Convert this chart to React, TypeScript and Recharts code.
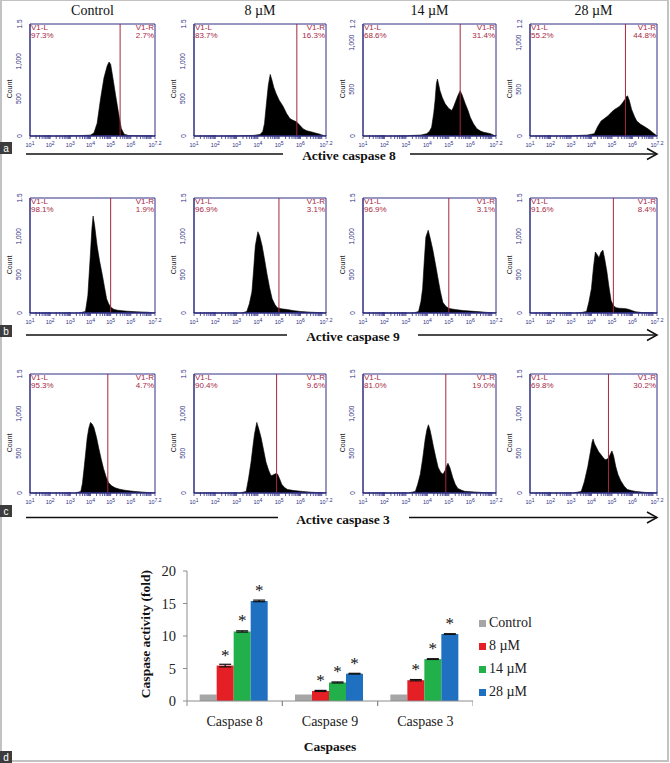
import React from 'react';
import {
  AreaChart, Area, XAxis, YAxis, ReferenceLine, ReferenceArea,
  BarChart, Bar, ErrorBar, LabelList,
} from 'recharts';

const NAVY = '#2e2e84';
const GATE = '#a8283f';
const SANS = '"Liberation Sans", Arial, sans-serif';
const SERIF = '"Liberation Serif", "Times New Roman", serif';

// ---- flow cytometry panels ----
const doseLabels = ['Control', '8 µM', '14 µM', '28 µM'];
const decadeTicks = [1, 2, 3, 4, 5, 6, 7.2];
const decadeLabels = ['1', '2', '3', '4', '5', '6', '7.2'];
// log-axis minor ticks (2..9 inside each decade)
const minorTicks = [1, 2, 3, 4, 5, 6].flatMap((d) => [2, 3, 4, 5, 6, 7, 8, 9].map((m) => d + Math.log10(m))).concat([7]);
const xTicks = [...decadeTicks, ...minorTicks].sort((a, b) => a - b);

type Pt = [number, number];

// Active caspase 8 (log10 fluorescence, count)
const c8Control: Pt[] = [[1, 0], [2.9, 0], [3.0, 3], [3.5, 5], [4.0, 12], [4.17, 40], [4.33, 170], [4.5, 500], [4.67, 780], [4.83, 940], [4.92, 990], [5.0, 960], [5.08, 830], [5.25, 540], [5.42, 260], [5.53, 100], [5.67, 25], [5.9, 6], [6.5, 2], [7.2, 0]];
const c8Dose8: Pt[] = [[1, 0], [3.0, 0], [3.2, 4], [3.8, 8], [4.1, 20], [4.23, 60], [4.31, 165], [4.39, 400], [4.49, 680], [4.58, 825], [4.65, 760], [4.75, 650], [4.86, 565], [5.0, 480], [5.18, 400], [5.35, 300], [5.5, 235], [5.65, 210], [5.81, 190], [5.95, 150], [6.13, 95], [6.3, 70], [6.52, 55], [6.7, 40], [6.91, 25], [7.1, 5], [7.2, 0]];
const c8Dose14: Pt[] = [[1, 0], [3.0, 0], [3.2, 5], [3.7, 10], [3.97, 25], [4.1, 50], [4.2, 95], [4.3, 250], [4.36, 380], [4.42, 560], [4.47, 610], [4.52, 560], [4.59, 485], [4.7, 410], [4.83, 345], [5.0, 295], [5.14, 273], [5.22, 310], [5.3, 360], [5.42, 430], [5.53, 485], [5.62, 440], [5.77, 345], [5.9, 270], [6.0, 200], [6.15, 130], [6.31, 78], [6.5, 50], [6.63, 40], [6.94, 25], [7.1, 8], [7.2, 0]];
const c8Dose28: Pt[] = [[1, 0], [3.0, 0], [3.3, 5], [3.8, 10], [4.14, 25], [4.3, 100], [4.47, 160], [4.65, 190], [4.8, 215], [5.0, 260], [5.13, 285], [5.25, 300], [5.38, 320], [5.5, 350], [5.63, 390], [5.7, 420], [5.76, 430], [5.85, 380], [5.96, 285], [6.1, 210], [6.21, 160], [6.4, 125], [6.54, 107], [6.7, 85], [6.87, 60], [7.0, 35], [7.1, 18], [7.2, 0]];

// Active caspase 9
const c9Control: Pt[] = [[1, 0], [3.4, 0], [3.5, 3], [3.75, 20], [3.87, 230], [4.0, 785], [4.07, 1100], [4.13, 1265], [4.2, 1150], [4.33, 875], [4.45, 680], [4.58, 507], [4.7, 330], [4.8, 185], [4.9, 120], [5.0, 78], [5.15, 50], [5.33, 37], [5.6, 28], [5.83, 23], [6.3, 15], [6.83, 10], [7.2, 0]];
const c9Dose8: Pt[] = [[1, 0], [3.2, 0], [3.3, 4], [3.48, 20], [3.6, 120], [3.72, 275], [3.8, 560], [3.88, 875], [4.0, 1060], [4.08, 1010], [4.2, 875], [4.3, 720], [4.43, 507], [4.55, 330], [4.67, 185], [4.8, 110], [4.91, 70], [5.1, 55], [5.38, 45], [5.7, 30], [6.0, 20], [6.5, 10], [6.9, 5], [7.2, 0]];
const c9Dose14: Pt[] = [[1, 0], [3.3, 0], [3.4, 4], [3.59, 20], [3.7, 150], [3.78, 320], [3.85, 650], [3.93, 990], [4.04, 1080], [4.12, 990], [4.25, 830], [4.37, 650], [4.49, 460], [4.6, 290], [4.72, 140], [4.85, 90], [5.0, 60], [5.3, 45], [5.67, 32], [6.0, 25], [6.46, 15], [6.9, 5], [7.2, 0]];
const c9Dose28: Pt[] = [[1, 0], [3.3, 0], [3.5, 5], [3.76, 20], [3.88, 150], [4.0, 320], [4.1, 600], [4.19, 795], [4.28, 760], [4.37, 720], [4.46, 790], [4.56, 820], [4.65, 700], [4.75, 545], [4.85, 350], [4.96, 160], [5.08, 95], [5.2, 70], [5.35, 62], [5.52, 60], [5.7, 55], [5.84, 45], [6.0, 30], [6.16, 15], [6.5, 5], [7.2, 0]];

// Active caspase 3
const c3Control: Pt[] = [[1, 0], [3.2, 0], [3.3, 4], [3.52, 20], [3.6, 120], [3.68, 305], [3.76, 500], [3.84, 700], [3.92, 820], [4.0, 890], [4.08, 870], [4.17, 825], [4.3, 700], [4.41, 565], [4.53, 430], [4.65, 305], [4.78, 200], [4.9, 130], [5.05, 90], [5.22, 65], [5.45, 48], [5.7, 35], [6.1, 22], [6.52, 13], [6.9, 5], [7.2, 0]];
const c3Dose8: Pt[] = [[1, 0], [3.1, 0], [3.2, 4], [3.45, 20], [3.56, 180], [3.68, 390], [3.76, 570], [3.84, 740], [3.95, 890], [4.04, 810], [4.15, 700], [4.27, 540], [4.38, 390], [4.5, 290], [4.61, 220], [4.7, 225], [4.77, 235], [4.85, 245], [4.92, 240], [5.02, 180], [5.12, 110], [5.25, 70], [5.39, 45], [5.7, 30], [6.09, 20], [6.5, 10], [6.9, 4], [7.2, 0]];
const c3Dose14: Pt[] = [[1, 0], [3.1, 0], [3.2, 5], [3.44, 20], [3.55, 110], [3.67, 235], [3.78, 430], [3.9, 680], [3.98, 800], [4.05, 860], [4.12, 800], [4.2, 700], [4.28, 590], [4.4, 440], [4.5, 325], [4.62, 260], [4.73, 235], [4.82, 280], [4.9, 340], [4.96, 375], [5.05, 320], [5.19, 190], [5.3, 110], [5.42, 58], [5.6, 35], [5.73, 22], [6.18, 13], [6.6, 6], [7.2, 0]];
const c3Dose28: Pt[] = [[1, 0], [3.1, 0], [3.2, 5], [3.5, 20], [3.65, 140], [3.82, 330], [3.95, 520], [4.03, 640], [4.08, 680], [4.15, 620], [4.25, 570], [4.35, 520], [4.46, 485], [4.56, 450], [4.67, 420], [4.75, 425], [4.83, 440], [4.92, 490], [5.0, 530], [5.08, 470], [5.19, 330], [5.3, 230], [5.43, 155], [5.6, 85], [5.75, 45], [5.95, 30], [6.15, 20], [6.6, 8], [7.2, 0]];

const c8Gates = [5.47, 5.83, 5.53, 5.66];
const c8LeftPct = ['97.3%', '83.7%', '68.6%', '55.2%'];
const c8RightPct = ['2.7%', '16.3%', '31.4%', '44.8%'];
const c8YMax = [1500, 1500, 1200, 1200];

const c9Gates = [5.0, 4.99, 5.0, 5.07];
const c9LeftPct = ['98.1%', '96.9%', '96.9%', '91.6%'];
const c9RightPct = ['1.9%', '3.1%', '3.1%', '8.4%'];
const c9YMax = [1500, 1500, 1500, 1500];

const c3Gates = [4.86, 4.88, 4.86, 4.83];
const c3LeftPct = ['95.3%', '90.4%', '81.0%', '69.8%'];
const c3RightPct = ['4.7%', '9.6%', '19.0%', '30.2%'];
const c3YMax = [1500, 1500, 1500, 1500];

const rows = [
  { hists: [c8Control, c8Dose8, c8Dose14, c8Dose28], gates: c8Gates, left: c8LeftPct, right: c8RightPct, yMax: c8YMax },
  { hists: [c9Control, c9Dose8, c9Dose14, c9Dose28], gates: c9Gates, left: c9LeftPct, right: c9RightPct, yMax: c9YMax },
  { hists: [c3Control, c3Dose8, c3Dose14, c3Dose28], gates: c3Gates, left: c3LeftPct, right: c3RightPct, yMax: c3YMax },
];

const colLeft = [30, 194, 363, 530];
const colWidth = [125, 132, 133, 127];
const rowTop = [24, 198, 374];
const rowHeight = [112, 115, 119];

// ---- bar chart ----
const caspaseNames = ['Caspase 8', 'Caspase 9', 'Caspase 3'];
const controlFold = [1, 1, 1];
const fold8uM = [5.45, 1.55, 3.2];
const fold14uM = [10.7, 2.85, 6.45];
const fold28uM = [15.4, 4.2, 10.3];
const err8uM = [0.2, 0.08, 0.1];
const err14uM = [0.1, 0.08, 0.06];
const err28uM = [0.12, 0.06, 0.05];
const seriesNames = ['Control', '8 µM', '14 µM', '28 µM'];
const seriesColors = ['#a6a6a6', '#e41f26', '#22b04b', '#1f70c1'];

const barData = caspaseNames.map((name, i) => ({
  name,
  control: controlFold[i],
  d8: fold8uM[i], e8: err8uM[i],
  d14: fold14uM[i], e14: err14uM[i],
  d28: fold28uM[i], e28: err28uM[i],
}));

const LogTick = (props: any) => {
  const { x, y, payload } = props;
  const idx = decadeTicks.indexOf(payload.value);
  return (
    <g>
      <line x1={x} x2={x} y1={y - 1} y2={y + 3} stroke={NAVY} strokeWidth={0.8} />
      {idx >= 0 && (
        <text x={x} y={y + 11} textAnchor="middle" fontSize={5.5} fontFamily={SANS} fill={NAVY}>
          10<tspan dy={-2} fontSize={5}>{decadeLabels[idx]}</tspan>
        </text>
      )}
    </g>
  );
};

const CountTick = (props: any) => {
  const { x, y, payload } = props;
  const v = payload.value;
  const label = v === 0 ? '0' : v === 500 ? '500' : v === 1000 ? '1,000' : (v / 1000).toFixed(1);
  const cx = x - 11;
  return (
    <text x={cx} y={y} transform={`rotate(-90 ${cx} ${y})`} textAnchor="middle" dominantBaseline="central"
      fontSize={6.5} fontFamily={SANS} fill={NAVY}>{label}</text>
  );
};

function FlowPanel(props: { points: Pt[]; gate: number; yMax: number; left: number; top: number; width: number; height: number; leftPct: string; rightPct: string }) {
  const { points, gate, yMax, left, top, width, height, leftPct, rightPct } = props;
  const ML = 32, MT = 10, MR = 10, MB = 16;
  const data = points.map(([x, y]) => ({ x, y }));
  const gateText: React.CSSProperties = { position: 'absolute', top: MT, fontFamily: SANS, fontSize: 8, lineHeight: '7.5px', color: GATE };
  return (
    <div style={{ position: 'absolute', left: left - ML, top: top - MT, width: width + ML + MR, height: height + MT + MB }}>
      <AreaChart width={width + ML + MR} height={height + MT + MB} data={data} margin={{ top: MT, right: MR, left: 0, bottom: 0 }}>
        <XAxis type="number" dataKey="x" domain={[1, 7.2]} ticks={xTicks} interval={0} tick={<LogTick />}
          tickLine={false} tickSize={0} tickMargin={0} axisLine={{ stroke: NAVY }} height={MB} />
        <YAxis type="number" domain={[0, yMax]} ticks={[0, 500, 1000, yMax]} interval={0} tick={<CountTick />}
          tickLine={false} tickSize={0} tickMargin={0} axisLine={{ stroke: NAVY }} width={ML} />
        <Area type="linear" dataKey="y" stroke="#000" strokeWidth={0.6} fill="#000" fillOpacity={1}
          dot={false} activeDot={false} isAnimationActive={false} />
        <ReferenceArea x1={1} x2={7.2} y1={0} y2={yMax} fill="none" stroke={NAVY} strokeWidth={1} />
        <ReferenceLine x={gate} stroke={GATE} strokeWidth={1} />
      </AreaChart>
      <div style={{ ...gateText, left: ML + 1 }}>V1-L<br />{leftPct}</div>
      <div style={{ ...gateText, right: MR + 1, textAlign: 'right' }}>V1-R<br />{rightPct}</div>
      <div style={{
        position: 'absolute', left: ML - 20 - 20, top: MT + height * 0.58 - 5, width: 40, height: 10,
        lineHeight: '10px', textAlign: 'center', fontFamily: SANS, fontSize: 7, color: '#222',
        transform: 'rotate(-90deg)',
      }}>Count</div>
    </div>
  );
}

const CategoryTick = (props: any) => {
  const { x, y, payload } = props;
  const half = 286 / 6;
  return (
    <g>
      <line x1={x - half} x2={x - half} y1={y} y2={y + 5} stroke="#8c8c8c" />
      <line x1={x + half} x2={x + half} y1={y} y2={y + 5} stroke="#8c8c8c" />
      <text x={x} y={y + 25} textAnchor="middle" fontSize={14} fontFamily={SERIF} fill="#222">{payload.value}</text>
    </g>
  );
};

const Star = (props: any) => {
  const { x, y, width } = props;
  return <text x={x + width / 2} y={y - 5} textAnchor="middle" fontSize={17} fontFamily={SERIF} fill="#111">*</text>;
};

const sectionTitles = ['Active caspase 8', 'Active caspase 9', 'Active caspase 3'];
const sectionY = [154, 335, 517.5];
const sectionLeftEnd = [283, 287, 278];
const sectionTextX = [349, 353, 343];
const sectionArrowStart = [410, 418, 409];
const badges = [
  { t: 'a', y: 142 }, { t: 'b', y: 325 }, { t: 'c', y: 505 }, { t: 'd', y: 751 },
];

export default function App() {
  return (
    <div style={{ position: 'relative', width: 670, height: 763, background: '#fff', overflow: 'hidden' }}>
      <style>{'body{margin:0;}'}</style>
      <div style={{ position: 'absolute', left: 0, top: 0, width: 669, height: 762, boxSizing: 'border-box', border: '2px solid #c2c2c2', borderTopWidth: 1 }} />

      {doseLabels.map((d, c) => (
        <div key={d} style={{
          position: 'absolute', left: colLeft[c], width: colWidth[c], top: 3, textAlign: 'center',
          fontFamily: SERIF, fontSize: 14, lineHeight: '16px', color: '#111',
        }}>{d}</div>
      ))}

      {rows.map((row, r) => row.hists.map((pts, c) => (
        <FlowPanel key={`${r}-${c}`} points={pts} gate={row.gates[c]} yMax={row.yMax[c]}
          left={colLeft[c]} top={rowTop[r]} width={colWidth[c]} height={rowHeight[r]}
          leftPct={row.left[c]} rightPct={row.right[c]} />
      )))}

      <svg width={670} height={763} style={{ position: 'absolute', left: 0, top: 0, pointerEvents: 'none' }}>
        {sectionTitles.map((t, i) => (
          <g key={t}>
            <line x1={26} x2={sectionLeftEnd[i]} y1={sectionY[i]} y2={sectionY[i]} stroke="#111" strokeWidth={1.5} />
            <text x={sectionTextX[i]} y={sectionY[i] + 6} textAnchor="middle" fontFamily={SERIF} fontWeight="bold" fontSize={13.5} fill="#111">{t}</text>
            <line x1={sectionArrowStart[i]} x2={657} y1={sectionY[i]} y2={sectionY[i]} stroke="#111" strokeWidth={1.5} />
            <polyline points={`647,${sectionY[i] - 5.5} 657,${sectionY[i]} 647,${sectionY[i] + 5.5}`} fill="none" stroke="#111" strokeWidth={1.5} />
          </g>
        ))}
        {badges.map((b) => (
          <g key={b.t}>
            <rect x={0} y={b.y} width={12} height={12} fill="#3c3c3c" />
            <text x={6} y={b.y + 9.5} textAnchor="middle" fontFamily={SANS} fontSize={10} fill="#fff">{b.t}</text>
          </g>
        ))}
        <text x={145} y={634} transform="rotate(-90 145 634)" textAnchor="middle" dominantBaseline="central"
          fontFamily={SERIF} fontWeight="bold" fontSize={13.5} fill="#111">Caspase activity (fold)</text>
        <text x={330} y={751} textAnchor="middle" fontFamily={SERIF} fontWeight="bold" fontSize={13.5} fill="#111">Caspases</text>
      </svg>

      <div style={{ position: 'absolute', left: 120, top: 560 }}>
        <BarChart width={353} height={171} data={barData} margin={{ top: 11, right: 0, left: 0, bottom: 0 }}
          barCategoryGap="13.3%" barGap={0}>
          <XAxis dataKey="name" tick={<CategoryTick />} tickLine={false} tickSize={0} tickMargin={0}
            axisLine={{ stroke: '#8c8c8c' }} height={30} interval={0} />
          <YAxis type="number" domain={[0, 20]} ticks={[0, 5, 10, 15, 20]} width={67} tickSize={4} tickMargin={7}
            tickLine={{ stroke: '#8c8c8c' }} axisLine={{ stroke: '#8c8c8c' }}
            tick={{ fontSize: 14.5, fill: '#222', fontFamily: SERIF }} />
          <Bar dataKey="control" fill={seriesColors[0]} isAnimationActive={false} />
          <Bar dataKey="d8" fill={seriesColors[1]} isAnimationActive={false}>
            <ErrorBar dataKey="e8" width={6} strokeWidth={1.2} stroke="#111" />
            <LabelList dataKey="d8" content={Star} />
          </Bar>
          <Bar dataKey="d14" fill={seriesColors[2]} isAnimationActive={false}>
            <ErrorBar dataKey="e14" width={6} strokeWidth={1.2} stroke="#111" />
            <LabelList dataKey="d14" content={Star} />
          </Bar>
          <Bar dataKey="d28" fill={seriesColors[3]} isAnimationActive={false}>
            <ErrorBar dataKey="e28" width={6} strokeWidth={1.2} stroke="#111" />
            <LabelList dataKey="d28" content={Star} />
          </Bar>
        </BarChart>
      </div>

      {seriesNames.map((s, i) => (
        <div key={s} style={{ position: 'absolute', left: 479, top: 615 + i * 23, height: 16, display: 'flex', alignItems: 'center' }}>
          <span style={{ display: 'inline-block', width: 7, height: 7, background: seriesColors[i], marginRight: 3 }} />
          <span style={{ fontFamily: SERIF, fontSize: 14, color: '#222' }}>{s}</span>
        </div>
      ))}
    </div>
  );
}
